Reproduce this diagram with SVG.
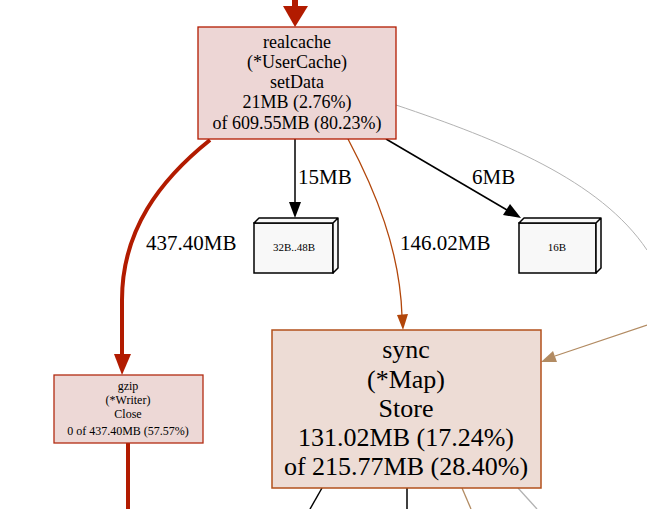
<svg xmlns="http://www.w3.org/2000/svg" width="647" height="509" viewBox="0 0 647 509" font-family="'Liberation Serif','DejaVu Serif',serif">
<defs>
<style>
text{font-family:'Liberation Serif','DejaVu Serif',serif;text-anchor:middle;fill:#000}
.lbl{font-size:21px;text-anchor:start}
.n1{font-size:18px}
.n2{font-size:12px}
.n3{font-size:26px}
.leaf{font-size:11px}
</style>
</defs>
<g id="edges">
  <path d="M295,0 V8" stroke="#b21b00" stroke-width="6" fill="none"/>
  <polygon points="283,6 308,6 295,27" fill="#b21b00"/>
  <path d="M210,140 C160,180 122,230 122,300 V356" stroke="#b21b00" stroke-width="4" fill="none"/>
  <polygon points="114,354 131,354 122,375" fill="#b21b00"/>
  <path d="M128,443 V509" stroke="#b21b00" stroke-width="4" fill="none"/>
  <path d="M295,139 V203" stroke="#000" stroke-width="1.5" fill="none"/>
  <polygon points="289,202 301,202 295,218" fill="#000"/>
  <path d="M386,139 L507,210" stroke="#000" stroke-width="1.5" fill="none"/>
  <polygon points="503,215 510,204 521,218" fill="#000"/>
  <path d="M348,139 C375,190 400,250 402,316" stroke="#b2460a" stroke-width="1.3" fill="none"/>
  <polygon points="397,315 408,314 403,330" fill="#b2460a"/>
  <path d="M396,105 C500,140 600,180 647,250" stroke="#b2b2b2" stroke-width="1" fill="none"/>
  <path d="M647,325 L555,356" stroke="#b28b62" stroke-width="1.3" fill="none"/>
  <polygon points="553,351 557,362 541,362" fill="#b28b62"/>
  <path d="M322,488 L310,509" stroke="#000" stroke-width="1.5" fill="none"/>
  <path d="M407,488 V509" stroke="#000" stroke-width="1.5" fill="none"/>
  <path d="M462,488 L471,509" stroke="#b28b62" stroke-width="1.3" fill="none"/>
  <path d="M518,488 L537,509" stroke="#b2b2b2" stroke-width="1.3" fill="none"/>
  <text class="lbl" x="146" y="250">437.40MB</text>
  <text class="lbl" x="298" y="184">15MB</text>
  <text class="lbl" x="472" y="184">6MB</text>
  <text class="lbl" x="400" y="250">146.02MB</text>
</g>
<g id="realcache">
  <rect x="198" y="27" width="198" height="112" fill="#edd6d5" stroke="#b21b00" stroke-width="1.3"/>
  <text class="n1" x="297" y="48">realcache</text>
  <text class="n1" x="297" y="68">(*UserCache)</text>
  <text class="n1" x="297" y="88">setData</text>
  <text class="n1" x="297" y="108">21MB (2.76%)</text>
  <text class="n1" x="297" y="129">of 609.55MB (80.23%)</text>
</g>
<g id="b32">
  <rect x="254" y="223" width="79" height="50" fill="#f8f8f8" stroke="#000" stroke-width="1.5"/>
  <path d="M254,223 L259,218 H338 L333,223 z M333,223 L338,218 V268 L333,273 z" fill="#f8f8f8" stroke="#000" stroke-width="1.5" stroke-linejoin="round"/>
  <text class="leaf" x="294" y="251">32B..48B</text>
</g>
<g id="b16">
  <rect x="519" y="223" width="77" height="50" fill="#f8f8f8" stroke="#000" stroke-width="1.5"/>
  <path d="M519,223 L524,218 H601 L596,223 z M596,223 L601,218 V268 L596,273 z" fill="#f8f8f8" stroke="#000" stroke-width="1.5" stroke-linejoin="round"/>
  <text class="leaf" x="557" y="251">16B</text>
</g>
<g id="gzip">
  <rect x="54" y="375" width="149" height="68" fill="#edd8d6" stroke="#b22c12" stroke-width="1.3"/>
  <text class="n2" x="128" y="390">gzip</text>
  <text class="n2" x="128" y="404">(*Writer)</text>
  <text class="n2" x="128" y="418">Close</text>
  <text class="n2" x="128" y="435">0 of 437.40MB (57.57%)</text>
</g>
<g id="sync">
  <rect x="272" y="330" width="269" height="158" fill="#eddcd5" stroke="#b2501b" stroke-width="1.5"/>
  <text class="n3" x="406" y="358">sync</text>
  <text class="n3" x="406" y="388">(*Map)</text>
  <text class="n3" x="406" y="417">Store</text>
  <text class="n3" x="406" y="446">131.02MB (17.24%)</text>
  <text class="n3" x="406" y="475">of 215.77MB (28.40%)</text>
</g>
</svg>
